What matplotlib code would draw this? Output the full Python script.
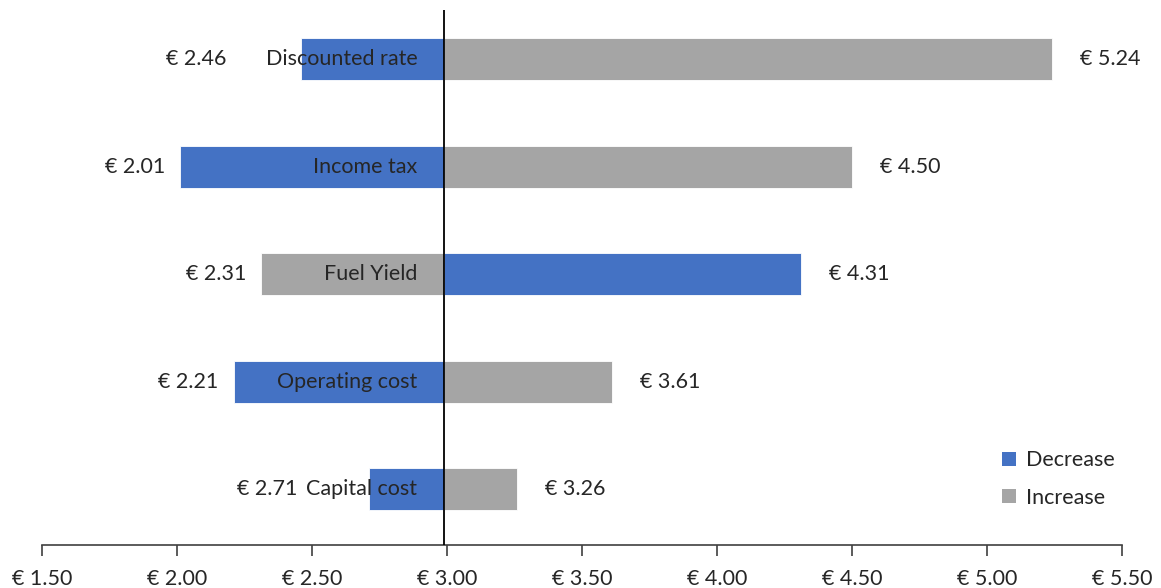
import matplotlib
matplotlib.use("Agg")
import matplotlib.pyplot as plt
from matplotlib.patches import Patch

plt.rcParams['font.family'] = ['Lato', 'DejaVu Sans']

# Sensitivity of unit cost to each driver (bottom to top)
categories = ["Capital cost", "Operating cost", "Fuel Yield", "Income tax", "Discounted rate"]
decrease_values = [2.71, 2.21, 4.31, 2.01, 2.46]
increase_values = [3.26, 3.61, 2.31, 4.50, 5.24]
base_value = 2.99
x_ticks = [1.50, 2.00, 2.50, 3.00, 3.50, 4.00, 4.50, 5.00, 5.50]

BLUE = "#4472C4"
GREY = "#A5A5A5"
TEXT = "#262626"
FS = 15.5

W, H = 1161, 588
fig = plt.figure(figsize=(W / 100, H / 100), dpi=100)
ax = fig.add_axes([42 / W, 43 / H, 1080 / W, 535 / H])

ypos = list(range(len(categories)))
bar_h = 0.39
ax.barh(ypos, [d - base_value for d in decrease_values], left=base_value,
        height=bar_h, color=BLUE, edgecolor="white", linewidth=0.6, zorder=2)
ax.barh(ypos, [i - base_value for i in increase_values], left=base_value,
        height=bar_h, color=GREY, edgecolor="white", linewidth=0.6, zorder=2)
ax.axvline(base_value, color="black", linewidth=1.3, zorder=3)

# pixel gaps between the low-side value label and its bar end
left_gaps = [71, 15, 14, 14, 75]
right_gap = 28
px = 0.72  # points per pixel at 100 dpi

for y, cat, d, i, g in zip(ypos, categories, decrease_values, increase_values, left_gaps):
    lo, hi = min(d, i), max(d, i)
    ax.annotate(f"€ {lo:.2f}", (lo, y), xytext=(-g * px, 0), textcoords="offset points",
                ha="right", va="center", fontsize=FS, color=TEXT, zorder=4)
    ax.annotate(f"€ {hi:.2f}", (hi, y), xytext=(right_gap * px, 0), textcoords="offset points",
                ha="left", va="center", fontsize=FS, color=TEXT, zorder=4)
    ax.annotate(cat, (base_value, y), xytext=(-27 * px, 0), textcoords="offset points",
                ha="right", va="center", fontsize=FS, color=TEXT, zorder=4)

ax.set_xlim(1.5, 5.5)
ax.set_ylim(-0.52, 4.456)
ax.set_xticks(x_ticks)
ax.set_xticklabels([f"€ {t:.2f}" for t in x_ticks], fontsize=FS, color=TEXT)
ax.set_yticks([])
for s in ("left", "top", "right"):
    ax.spines[s].set_visible(False)
ax.spines["bottom"].set_color("#404040")
ax.spines["bottom"].set_linewidth(1.2)
ax.tick_params(axis="x", direction="out", length=8, width=1.2, color="#404040", pad=9)

handles = [Patch(facecolor=BLUE, label="Decrease"), Patch(facecolor=GREY, label="Increase")]
fig.legend(handles=handles, loc="upper left", bbox_to_anchor=(983 / W, 1 - 431 / H),
           frameon=False, fontsize=FS, handlelength=0.65, handleheight=0.65,
           handletextpad=0.45, labelspacing=0.8, labelcolor=TEXT)

fig.savefig("out.png", dpi=100, facecolor="white")
